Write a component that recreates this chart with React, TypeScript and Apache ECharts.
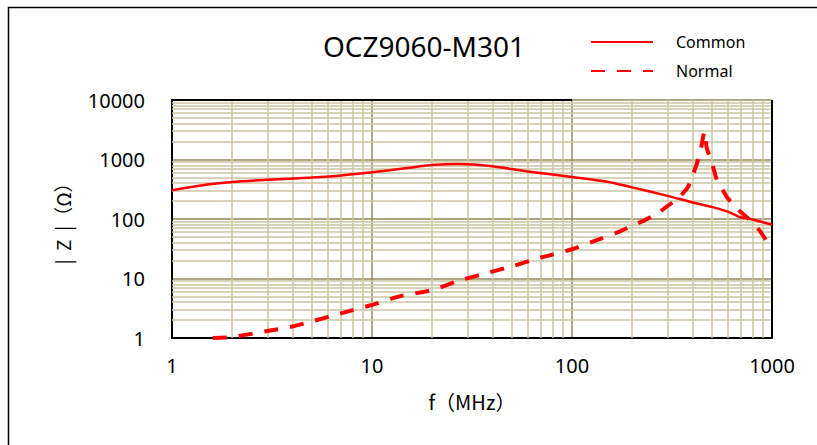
import React, { useEffect, useRef } from "react";
import * as echarts from "echarts";

const titleText = "OCZ9060-M301";
const seriesNames = ["Common", "Normal"];

const freqCommon = [1, 1.5, 2, 3, 5, 7, 10, 15, 20, 27, 40, 60, 100, 150, 200, 300, 400, 500, 600, 650, 700, 750, 800, 1000];
const zCommon = [305, 380, 420, 455, 500, 540, 610, 720, 805, 840, 770, 630, 510, 424, 340, 245, 190, 160, 133, 118, 106, 103, 98, 80];

const freqNormal = [1.6, 2, 3, 4, 5, 7, 10, 14, 20, 27, 37, 50, 70, 100, 130, 170, 200, 230, 265, 300, 340, 380, 405, 435, 460, 472, 500, 530, 560, 600, 680, 760, 850, 935, 1000];
const zNormal = [1.0, 1.04, 1.31, 1.56, 1.9, 2.6, 3.6, 5.1, 6.4, 9.1, 12.2, 16, 22.5, 31, 43, 60, 77, 95, 121, 165, 223, 345, 590, 1200, 2950, 1550, 900, 450, 330, 225, 142, 102, 69, 44, 30];

const minorX = [2, 3, 4, 5, 6, 7, 8, 9, 20, 30, 40, 50, 60, 70, 80, 90, 200, 300, 400, 500, 600, 700, 800, 900];
const minorY = [2, 3, 4, 5, 6, 7, 8, 9, 20, 30, 40, 50, 60, 70, 80, 90, 200, 300, 400, 500, 600, 700, 800, 900, 2000, 3000, 4000, 5000, 6000, 7000, 8000, 9000];

const xRange = [1, 1000];
const yRange = [1, 10000];
const topBorderEnd = 100;

const MAJOR = "#958b5d";
const MINOR = "#cdc5a3";
const RED = "#ff0000";
const FONT = "'Noto Sans', 'Open Sans', sans-serif";
const CJK = "'Noto Sans CJK JP', 'Noto Sans', sans-serif";

export default function App() {
  const ref = useRef<HTMLDivElement>(null);
  useEffect(() => {
    if (!ref.current) return;
    const chart = echarts.init(ref.current, undefined, { renderer: "svg" });
    const fmt = (v: number) => String(Math.round(v));
    chart.setOption({
      animation: false,
      backgroundColor: "#ffffff",
      title: {
        text: titleText,
        left: 419,
        top: 27,
        textAlign: "center",
        textStyle: { fontFamily: FONT, fontSize: 28, fontWeight: "normal", color: "#000" },
      },
      legend: {
        data: seriesNames,
        orient: "vertical",
        left: 585,
        top: 29,
        itemWidth: 62,
        itemHeight: 14,
        itemGap: 13,
        itemStyle: { opacity: 0 },
        textStyle: { fontFamily: FONT, fontSize: 16, color: "#000", padding: [0, 0, 0, 18] },
      },
      graphic: [
        {
          type: "rect",
          silent: true,
          shape: { x: 8.5, y: 7.5, width: 1000, height: 1000 },
          style: { fill: "none", stroke: "#000", lineWidth: 1.5 },
        },
      ],
      grid: { left: 172, right: 45, top: 100, bottom: 107, containLabel: false },
      xAxis: {
        type: "log",
        logBase: 10,
        min: xRange[0],
        max: xRange[1],
        name: "f（MHz）",
        nameLocation: "middle",
        nameGap: 53,
        nameTextStyle: { fontFamily: CJK, fontSize: 20, color: "#000" },
        axisLine: { show: true, lineStyle: { color: "#000", width: 2 } },
        axisTick: { show: false },
        axisLabel: { formatter: fmt, fontFamily: FONT, fontSize: 20, color: "#000", margin: 17 },
        splitLine: { show: true, lineStyle: { color: MAJOR, width: 1.5 } },
      },
      yAxis: {
        type: "log",
        logBase: 10,
        min: yRange[0],
        max: yRange[1],
        name: "|  Z  |（Ω）",
        nameLocation: "middle",
        nameGap: 100,
        nameTextStyle: { fontFamily: CJK, fontSize: 19, color: "#000" },
        axisLine: { show: true, lineStyle: { color: "#000", width: 2 } },
        axisTick: { show: false },
        axisLabel: { formatter: fmt, fontFamily: FONT, fontSize: 20, color: "#000", margin: 27 },
        splitLine: { show: true, lineStyle: { color: MAJOR, width: 1.5 } },
      },
      series: [
        {
          name: "minor-grid",
          type: "line",
          data: [],
          z: 1,
          silent: true,
          markLine: {
            silent: true,
            symbol: ["none", "none"],
            label: { show: false },
            lineStyle: { color: MINOR, width: 1.5, type: "solid" },
            emphasis: { disabled: true },
            data: [
              ...minorX.map((v) => ({ xAxis: v })),
              ...minorY.map((v) => ({ yAxis: v })),
            ],
          },
        },
        {
          name: "frame",
          type: "line",
          data: [],
          z: 2,
          silent: true,
          markLine: {
            silent: true,
            symbol: ["none", "none"],
            label: { show: false },
            lineStyle: { color: "#000", width: 2, type: "solid" },
            emphasis: { disabled: true },
            data: [
              [{ coord: [xRange[0], yRange[1]] }, { coord: [topBorderEnd, yRange[1]] }],
              [{ coord: [xRange[1], yRange[0]] }, { coord: [xRange[1], yRange[1]] }],
            ],
          },
        },
        {
          name: seriesNames[0],
          type: "line",
          z: 5,
          data: freqCommon.map((f, i) => [f, zCommon[i]]),
          showSymbol: false,
          symbol: "none",
          smooth: 0.3,
          lineStyle: { color: RED, width: 2.5, type: "solid" },
          itemStyle: { color: RED },
        },
        {
          name: seriesNames[1],
          type: "line",
          z: 6,
          data: freqNormal.map((f, i) => [f, zNormal[i]]),
          showSymbol: false,
          symbol: "none",
          smooth: 0.2,
          lineStyle: { color: RED, width: 4, type: [14, 12] },
          itemStyle: { color: RED },
        },
      ],
    });
    return () => chart.dispose();
  }, []);
  return (
    <div
      ref={ref}
      style={{ position: "fixed", left: 0, top: 0, width: 817, height: 445 }}
    />
  );
}
